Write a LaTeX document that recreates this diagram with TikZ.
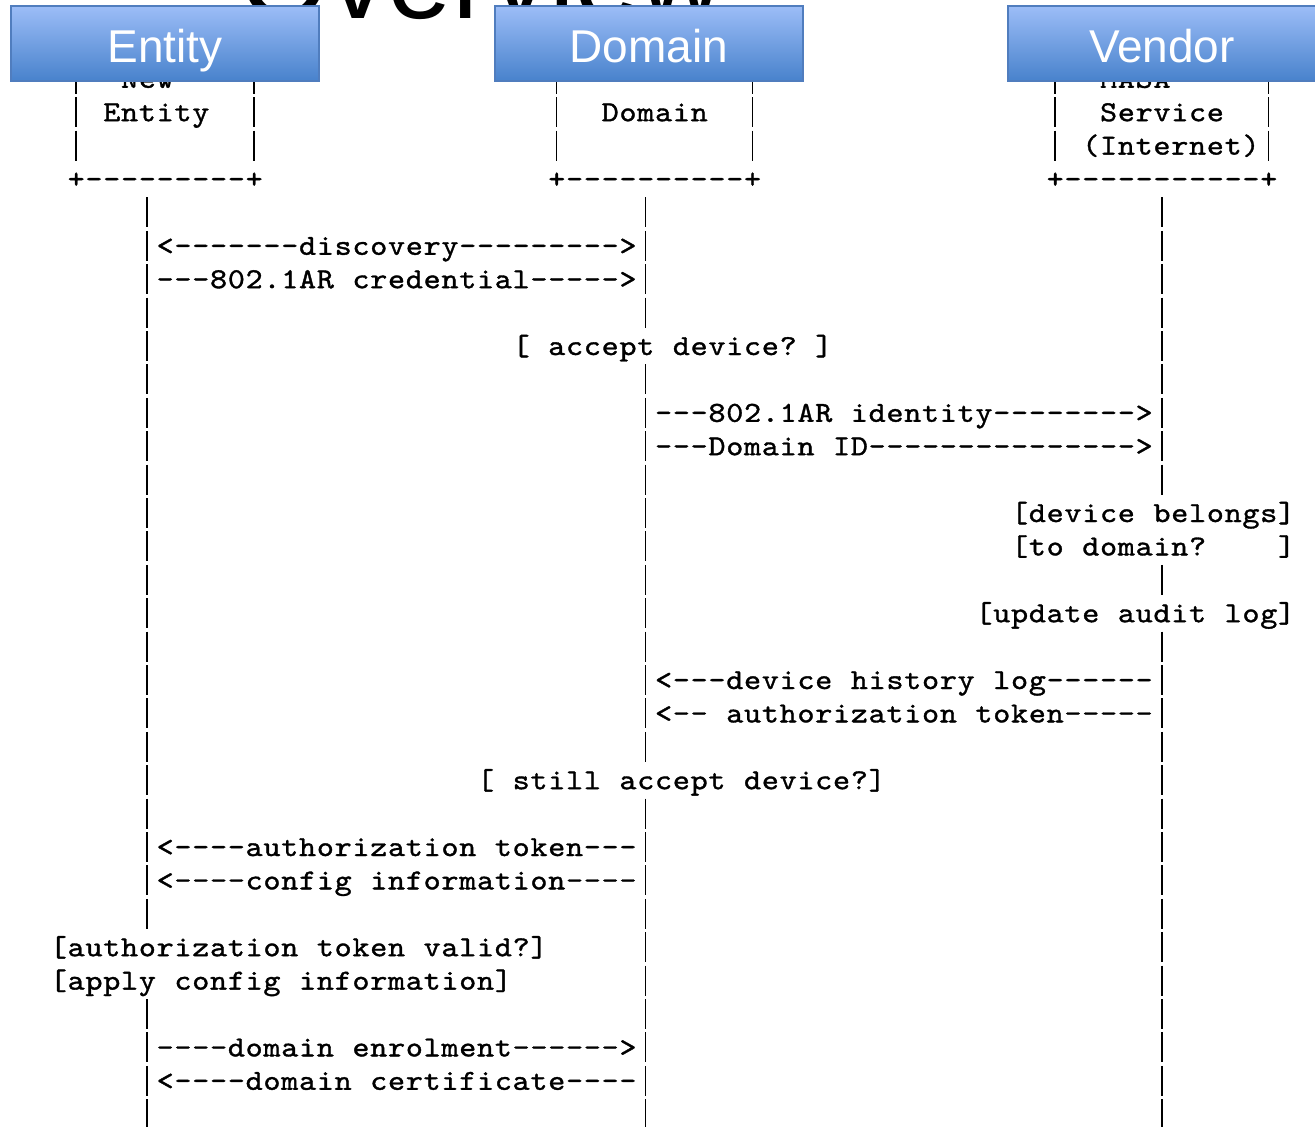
\documentclass[tikz,border=0pt]{standalone}
\usepackage{fontspec}
\newfontfamily\titlefont{Liberation Sans}
\newfontfamily\asciifont{lmmono10-regular.otf}[FakeStretch=1.12, FakeBold=1.2]

\definecolor{boxtop}{RGB}{156,189,247}
\definecolor{boxbot}{RGB}{72,130,204}
\definecolor{boxedge}{RGB}{80,125,190}

% one fixed cell per character, like the plain-text original
\newlength\asciicell
\setlength\asciicell{17.8pt}
\ExplSyntaxOn
\NewDocumentCommand\asciitext{m}
  { \str_map_inline:nn {#1} { \makebox[\asciicell][c]{##1} } }
\ExplSyntaxOff

% row, column, name, text
\newcommand\arow[4]{\node[ascii] (#3) at ({49.3+17.8*#2},{188+33.4*(#1)}) {\asciitext{#4}};}
% column, row
\newcommand\vbar[2]{\draw[bar] ({58.2+17.8*#1},{164+33.4*(#2)}) -- ++(0,30);}

\begin{document}
\begin{tikzpicture}[
        x=1pt, y=-1pt,
        ascii/.style={anchor=base west, inner sep=0pt, font=\asciifont\fontsize{29}{29}\selectfont},
        bar/.style={line width=1.7pt},
        title/.style={anchor=base west, inner sep=0pt, font=\titlefont\fontsize{116}{116}\selectfont},
        actor/.style={draw=boxedge, line width=1.2pt, top color=boxtop, bottom color=boxbot,
            minimum width=308pt, minimum height=75pt, inner sep=0pt, text=white,
            font=\titlefont\fontsize{46}{46}\selectfont, text height=37pt, text depth=0pt}
    ]
        \useasboundingbox (0,0) rectangle (1315,1127);

        % slide title, mostly hidden
        \node[title] (heading) at (239.5,19) {Overview};

        % boxes of the three parties
        \arow{-3}{4}{new}{New}
        \arow{-3}{59}{masa}{MASA}
        \arow{-2}{3}{entity}{Entity}
        \arow{-2}{31}{domain}{Domain}
        \arow{-2}{59}{service}{Service}
        \arow{-1}{58}{internet}{(Internet)}
        \arow{0}{1}{entity-bottom}{+---------+}
        \arow{0}{28}{domain-bottom}{+----------+}
        \arow{0}{56}{masa-bottom}{+-----------+}
        \foreach \c in {1,11,28,39,56,68} {
            \foreach \k in {-3,-2,-1} {
                \vbar{\c}{\k}
            }
        }

        % lifelines
        \foreach \k in {1,...,22,25,26,27,28} {
            \vbar{5}{\k}
        }
        \foreach \k in {1,...,4,6,7,...,17,19,20,...,28} {
            \vbar{33}{\k}
        }
        \foreach \k in {1,...,9,12,14,15,...,28} {
            \vbar{62}{\k}
        }

        % messages
        \arow{2}{6}{msg-discovery}{<-------discovery--------->}
        \arow{3}{6}{msg-credential}{---802.1AR credential----->}
        \arow{5}{26}{chk-accept}{[ accept device? ]}
        \arow{7}{34}{msg-identity}{---802.1AR identity-------->}
        \arow{8}{34}{msg-domainid}{---Domain ID--------------->}
        \arow{10}{54}{chk-belongs}{[device belongs]}
        \arow{11}{54}{chk-todomain}{[to domain?}
        \arow{11}{69}{chk-todomain-end}{]}
        \arow{13}{52}{chk-audit}{[update audit log]}
        \arow{15}{34}{msg-history}{<---device history log------}
        \arow{16}{34}{msg-token-masa}{<-- authorization token-----}
        \arow{18}{24}{chk-still}{[ still accept device?]}
        \arow{20}{6}{msg-token}{<----authorization token---}
        \arow{21}{6}{msg-config}{<----config information----}
        \arow{23}{0}{chk-valid}{[authorization token valid?]}
        \arow{24}{0}{chk-apply}{[apply config information]}
        \arow{26}{6}{msg-enrol}{----domain enrolment------>}
        \arow{27}{6}{msg-cert}{<----domain certificate----}

        % header boxes on top
        \node[actor] (entity-head) at (165,43.5) {Entity};
        \node[actor] (domain-head) at (649,43.5) {Domain};
        \node[actor] (vendor-head) at (1162,43.5) {Vendor};

    \end{tikzpicture}
\end{document}
